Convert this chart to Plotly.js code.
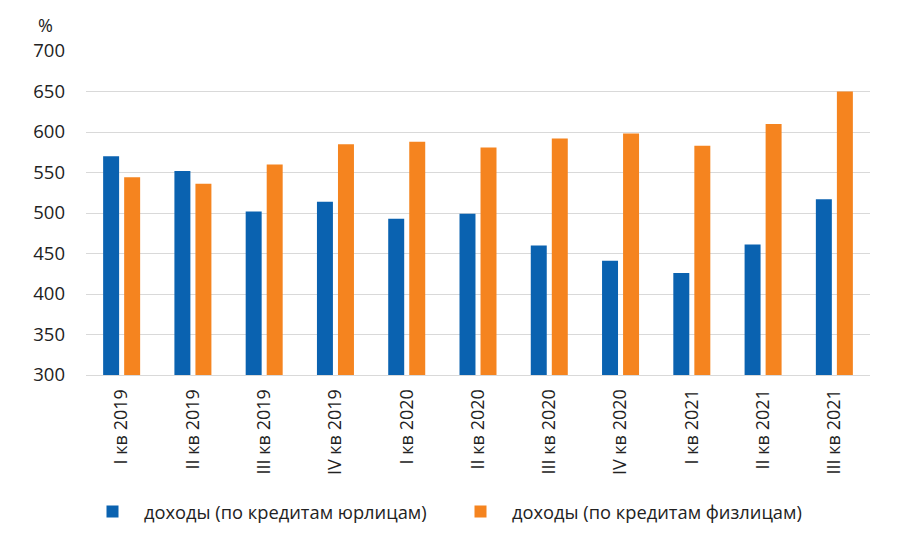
<!DOCTYPE html>
<html><head><meta charset="utf-8">
<script src="https://cdn.plot.ly/plotly-3.0.1.min.js"></script>
<style>body{margin:0;background:#fff}#chart{width:900px;height:533px}</style>
</head><body><div id="chart"></div>
<script>
const categories = ["I кв 2019","II кв 2019","III кв 2019","IV кв 2019","I кв 2020","II кв 2020","III кв 2020","IV кв 2020","I кв 2021","II кв 2021","III кв 2021"];
const corporate = [570, 552, 502, 514, 493, 499, 460, 441, 426, 461, 517];
const retail = [544, 536, 560, 585, 588, 581, 592, 598, 583, 610, 650];
const seriesNames = ["доходы (по кредитам юрлицам)", "доходы (по кредитам физлицам)"];
const yTicks = [300, 350, 400, 450, 500, 550, 600, 650, 700];

const font = "'Open Sans', 'Noto Sans', sans-serif";
const data = [
  {type:"bar", x:categories, y:corporate, name:seriesNames[0], marker:{color:"#0A62B0"}},
  {type:"bar", x:categories, y:retail, name:seriesNames[1], marker:{color:"#F5841F"}}
];
const layout = {
  width:900, height:533,
  margin:{l:86, r:30, t:51, b:158, autoexpand:false},
  paper_bgcolor:"#fff", plot_bgcolor:"#fff",
  font:{family:font, color:"#222", size:17},
  barmode:"group", bargap:0.41, bargroupgap:0.24,
  showlegend:true,
  legend:{orientation:"h", xref:"container", yref:"container", x:0.09, xanchor:"left", y:0.04, yanchor:"middle",
          font:{size:18.3, color:"#222"}, itemwidth:53, entrywidth:300, entrywidthmode:"pixels"},
  xaxis:{tickangle:-90, tickfont:{size:18}, showline:true, linecolor:"#d9d9d9", linewidth:1, ticks:"", showgrid:false, automargin:false, ticklabelstandoff:6},
  yaxis:{range:[300,700], tickvals:yTicks, tickfont:{size:18.5}, showgrid:true, gridcolor:"#d9d9d9", gridwidth:1,
         zeroline:false, ticks:"", ticklen:0, ticklabelstandoff:20, automargin:false},
  annotations:[{text:"%", xref:"paper", yref:"paper", x:-0.052, y:1.0, yshift:26, showarrow:false, xanchor:"center", yanchor:"middle", font:{size:18, color:"#222"}}]
};
Plotly.newPlot("chart", data, layout, {displayModeBar:false, staticPlot:true});
</script></body></html>
